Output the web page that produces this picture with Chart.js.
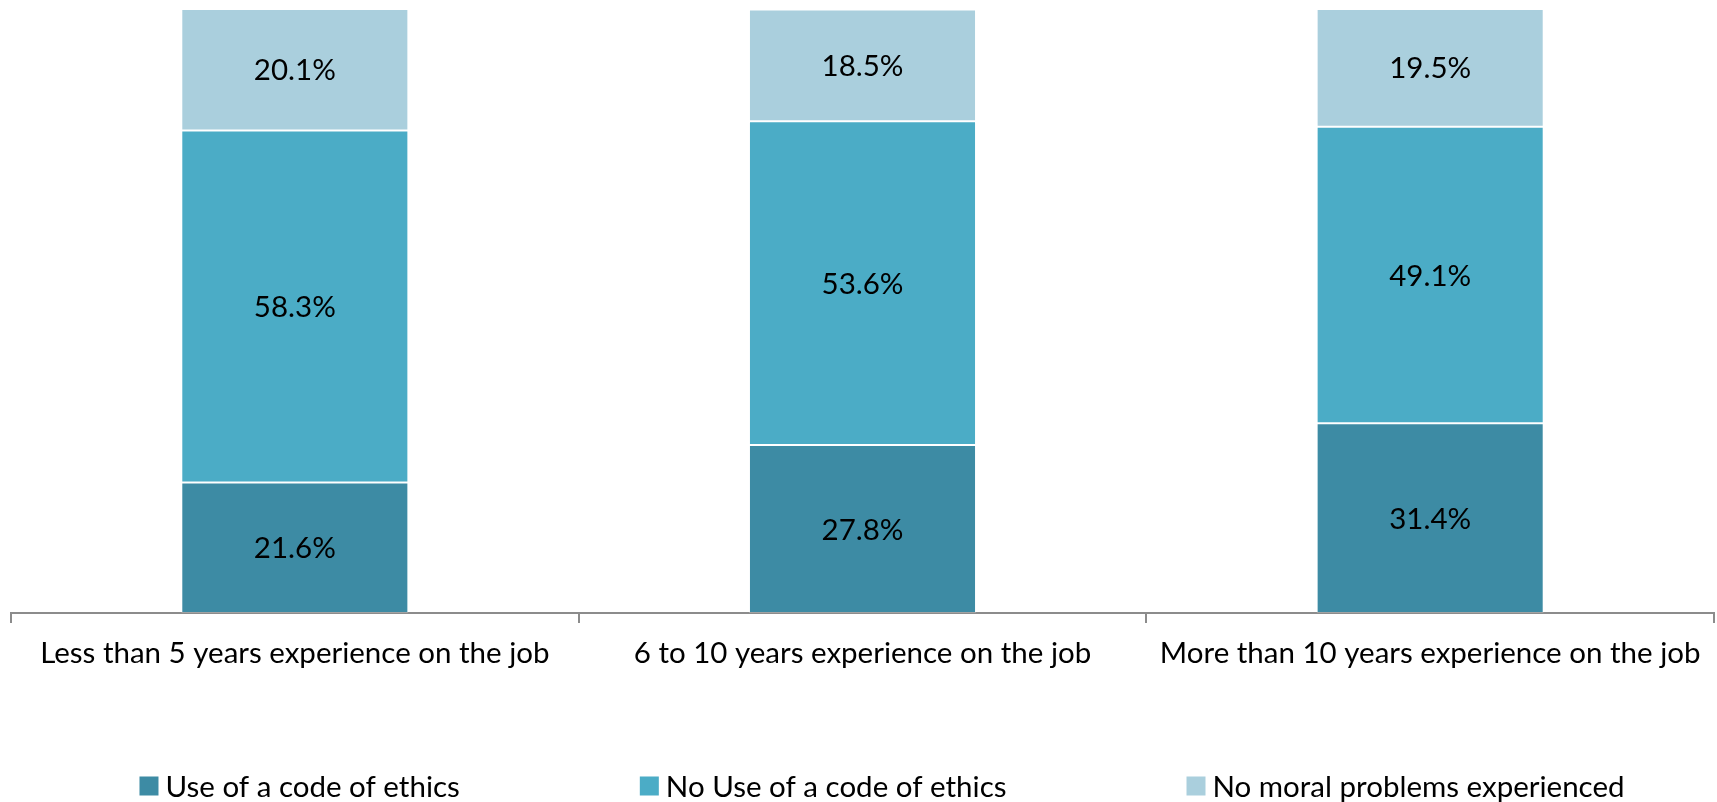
<!DOCTYPE html>
<html>
<head>
<meta charset="utf-8">
<script src="https://cdn.jsdelivr.net/npm/chart.js@4.4.0/dist/chart.umd.min.js"></script>
<style>
    html, body { margin: 0; padding: 0; background: #fff; }
    canvas { display: block; }
</style>
</head>
<body>
<canvas id="barChart" width="1717" height="802"></canvas>
<script>
const categories = [
    'Less than 5 years experience on the job',
    '6 to 10 years experience on the job',
    'More than 10 years experience on the job'
];
const useCode = [21.6, 27.8, 31.4];
const noUseCode = [58.3, 53.6, 49.1];
const noProblems = [20.1, 18.5, 19.5];
const seriesNames = ['Use of a code of ethics', 'No Use of a code of ethics', 'No moral problems experienced'];
const seriesColors = ['#3D8BA4', '#4BACC6', '#AACFDD'];

const FONT = 'Lato, "Open Sans", sans-serif';
const FONT_SIZE = 29.5;

// value labels in the middle of each segment
const barLabels = {
    id: 'barLabels',
    afterDatasetsDraw(chart) {
        const ctx = chart.ctx;
        ctx.save();
        ctx.font = FONT_SIZE + 'px ' + FONT;
        ctx.fillStyle = '#000';
        ctx.textAlign = 'center';
        ctx.textBaseline = 'middle';
        chart.data.datasets.forEach((ds, i) => {
            chart.getDatasetMeta(i).data.forEach((bar, j) => {
                const c = bar.getCenterPoint();
                ctx.fillText(ds.data[j].toFixed(1) + '%', c.x, c.y + 1);
            });
        });
        ctx.restore();
    }
};

// legend row at the bottom, wide spacing like the original
const bottomLegend = {
    id: 'bottomLegend',
    afterDraw(chart) {
        const ctx = chart.ctx;
        const box = 19, gap = 7, itemGap = 180;
        const y = 786;
        ctx.save();
        ctx.font = FONT_SIZE + 'px ' + FONT;
        ctx.textBaseline = 'middle';
        ctx.textAlign = 'left';
        const items = chart.data.datasets.map(ds => ({
            label: ds.label,
            color: ds.backgroundColor,
            w: box + gap + ctx.measureText(ds.label).width
        }));
        const total = items.reduce((s, it) => s + it.w, 0) + itemGap * (items.length - 1);
        let x = 882 - total / 2;
        items.forEach(it => {
            ctx.fillStyle = it.color;
            ctx.fillRect(x, y - box / 2, box, box);
            ctx.fillStyle = '#000';
            ctx.fillText(it.label, x + box + gap, y + 1);
            x += it.w + itemGap;
        });
        ctx.restore();
    }
};

const datasets = [useCode, noUseCode, noProblems].map((values, i) => ({
    label: seriesNames[i],
    data: values,
    backgroundColor: seriesColors[i],
    borderColor: 'rgba(255,255,255,0.2)',
    borderWidth: 1,
    borderSkipped: false,
    barPercentage: 0.4,
    categoryPercentage: 1.0
}));

const config = {
    type: 'bar',
    data: {
        labels: categories,
        datasets: datasets
    },
    options: {
        responsive: false,
        maintainAspectRatio: false,
        animation: false,
        layout: {
            padding: { left: 11, right: 3, top: 9, bottom: 89 }
        },
        plugins: {
            legend: { display: false },
            tooltip: { enabled: false },
            title: { display: false }
        },
        scales: {
            x: {
                stacked: true,
                grid: {
                    display: true,
                    drawOnChartArea: false,
                    drawTicks: true,
                    tickLength: 10,
                    color: '#8c8c8c',
                    lineWidth: 2
                },
                border: { display: true, color: '#8c8c8c', width: 2 },
                ticks: {
                    color: '#000',
                    font: { family: FONT, size: FONT_SIZE },
                    padding: 13,
                    maxRotation: 0,
                    autoSkip: false
                },
                afterFit(scale) {
                    scale.height = 100;
                }
            },
            y: {
                stacked: true,
                display: false,
                min: 0,
                max: 100
            }
        }
    },
    plugins: [barLabels, bottomLegend]
};

const ctx = document.getElementById('barChart').getContext('2d');
new Chart(ctx, config);
</script>
</body>
</html>
